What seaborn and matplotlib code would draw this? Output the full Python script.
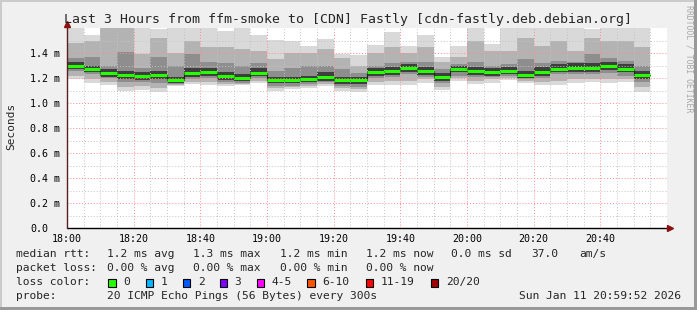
import numpy as np
import pandas as pd
import matplotlib
matplotlib.use("Agg")
import matplotlib.pyplot as plt
import seaborn as sns
from matplotlib.patches import Rectangle

# ---------------- data (ms) ----------------
x_tick_labels = ["18:00", "18:20", "18:40", "19:00", "19:20", "19:40", "20:00", "20:20", "20:40"]
y_tick_labels = ["0.0", "0.2 m", "0.4 m", "0.6 m", "0.8 m", "1.0 m", "1.2 m", "1.4 m"]
step_min = 5  # one column every 300 s

med = [1.300, 1.272, 1.237, 1.221, 1.213, 1.221, 1.181, 1.237, 1.247, 1.213, 1.197, 1.242,
       1.181, 1.181, 1.189, 1.210, 1.181, 1.181, 1.245, 1.253, 1.277, 1.253, 1.208, 1.269,
       1.253, 1.245, 1.253, 1.226, 1.245, 1.272, 1.280, 1.280, 1.293, 1.274, 1.224]
mx = [1.70, 1.546, 1.70, 1.70, 1.70, 1.594, 1.70, 1.70, 1.70, 1.573, 1.70, 1.546,
      1.506, 1.493, 1.460, 1.514, 1.394, 1.386, 1.466, 1.568, 1.453, 1.546, 1.367, 1.453,
      1.70, 1.474, 1.70, 1.70, 1.70, 1.70, 1.70, 1.590, 1.70, 1.70, 1.70]
p90 = [1.48, 1.50, 1.62, 1.62, 1.39, 1.52, 1.40, 1.50, 1.45, 1.45, 1.43, 1.42,
       1.35, 1.40, 1.40, 1.43, 1.36, 1.30, 1.40, 1.45, 1.40, 1.45, 1.33, 1.37,
       1.50, 1.42, 1.42, 1.52, 1.46, 1.50, 1.42, 1.52, 1.50, 1.50, 1.45]
p75 = [1.36, 1.37, 1.30, 1.41, 1.28, 1.37, 1.30, 1.39, 1.33, 1.32, 1.30, 1.32,
       1.26, 1.28, 1.30, 1.30, 1.27, 1.24, 1.30, 1.32, 1.33, 1.33, 1.27, 1.31,
       1.33, 1.30, 1.31, 1.35, 1.32, 1.34, 1.33, 1.39, 1.36, 1.34, 1.30]
p60 = [1.33, 1.30, 1.27, 1.26, 1.25, 1.26, 1.21, 1.28, 1.28, 1.25, 1.23, 1.28,
       1.21, 1.21, 1.22, 1.25, 1.21, 1.21, 1.28, 1.29, 1.31, 1.29, 1.24, 1.30,
       1.29, 1.28, 1.29, 1.26, 1.29, 1.31, 1.32, 1.32, 1.33, 1.31, 1.26]
p40 = [1.275, 1.245, 1.21, 1.19, 1.185, 1.19, 1.16, 1.21, 1.22, 1.185, 1.175, 1.215,
       1.16, 1.16, 1.165, 1.18, 1.155, 1.155, 1.22, 1.225, 1.25, 1.225, 1.18, 1.245,
       1.225, 1.22, 1.23, 1.20, 1.22, 1.245, 1.25, 1.25, 1.265, 1.245, 1.195]
p25 = [1.26, 1.23, 1.20, 1.17, 1.17, 1.16, 1.15, 1.19, 1.20, 1.17, 1.16, 1.20,
       1.14, 1.14, 1.15, 1.165, 1.14, 1.13, 1.20, 1.21, 1.235, 1.21, 1.16, 1.22,
       1.21, 1.21, 1.22, 1.19, 1.20, 1.23, 1.23, 1.23, 1.24, 1.22, 1.17]
p10 = [1.22, 1.19, 1.17, 1.13, 1.14, 1.12, 1.145, 1.17, 1.17, 1.15, 1.15, 1.18,
       1.12, 1.13, 1.135, 1.15, 1.12, 1.11, 1.17, 1.18, 1.18, 1.19, 1.13, 1.20,
       1.18, 1.19, 1.20, 1.18, 1.17, 1.18, 1.19, 1.19, 1.19, 1.19, 1.13]
mn = [1.19, 1.16, 1.146, 1.10, 1.106, 1.085, 1.138, 1.152, 1.146, 1.133, 1.141, 1.16,
      1.093, 1.112, 1.12, 1.133, 1.093, 1.09, 1.141, 1.146, 1.141, 1.16, 1.106, 1.173,
      1.154, 1.16, 1.181, 1.16, 1.146, 1.141, 1.16, 1.165, 1.16, 1.165, 1.088]

loss_labels = ["0", "1", "2", "3", "4-5", "6-10", "11-19", "20/20"]
loss_colors = ["#26ff00", "#00b8ff", "#0059ff", "#7e00ff", "#ff00ff", "#ff5500", "#ff0000", "#a10000"]

# ---------------- figure ----------------
sns.set_style("white")
plt.rcParams['font.family'] = ['DejaVu Sans Mono', 'DejaVu Sans']

W, H = 697, 310
fig = plt.figure(figsize=(W / 100, H / 100), dpi=100, facecolor='#f0f0f0')

def fx(px):
    return px / W

def fy(py):
    return 1 - py / H

top_px, bot_px, left_px, right_px = 27.5, 228.0, 67.0, 667.0
ax = fig.add_axes([fx(left_px), fy(bot_px), (right_px - left_px) / W, (bot_px - top_px) / H])
ax.set_facecolor('white')
ymax = (bot_px - top_px) / 125.0
ax.set_xlim(0, 180)
ax.set_ylim(0, ymax)

n = len(med)
t = np.arange(n) * step_min

bands = [(mn, mx, '#d9d9d9'), (p10, p90, '#b3b3b3'), (p25, p75, '#8e8e8e'), (p40, p60, '#3e3e3e')]
for lo, hi, c in bands:
    lo = np.array(lo)
    hi = np.array(hi)
    ax.bar(t, hi - lo, bottom=lo, width=step_min, align='edge', color=c, linewidth=0, zorder=1)

# median: dark step line + green segments
df = pd.DataFrame({'t': list(t) + [n * step_min], 'v': med + [med[-1]]})
sns.lineplot(data=df, x='t', y='v', drawstyle='steps-post', color='#202020', linewidth=0.8,
             ax=ax, zorder=4)
ax.hlines(med, t, t + step_min, color=loss_colors[0], linewidth=2.2, zorder=5)
ax.set_xlabel('')
ax.set_ylabel('')

# ticks & grid
ax.set_xticks(np.arange(len(x_tick_labels)) * 20, labels=x_tick_labels)
ax.set_xticks(np.arange(0, 181, 5), minor=True)
ax.set_yticks(np.arange(len(y_tick_labels)) * 0.2, labels=y_tick_labels)
ax.set_yticks(np.arange(0, 1.55, 0.1), minor=True)
ax.set_axisbelow(False)
ax.grid(which='major', color='#ff8c8c', linestyle=(0, (1, 2)), linewidth=0.7)
ax.grid(which='minor', color='#c4c4c4', linestyle=(0, (1, 2)), linewidth=0.7)
ax.tick_params(axis='x', which='major', length=2.5, direction='in', color='#ff4040',
               labelsize=7.2, pad=4, labelcolor='black')
ax.tick_params(axis='x', which='minor', length=2, direction='in', color='#b0b0b0')
ax.tick_params(axis='y', which='both', length=0, labelsize=7.2, pad=26.6, labelcolor='black')
for lbl in ax.get_yticklabels():
    lbl.set_horizontalalignment('left')
for s in ax.spines.values():
    s.set_visible(False)

# axes lines with arrows
ax.plot([0, 180.9], [0, 0], color='black', linewidth=1.0, clip_on=False, zorder=6)
ax.plot([180.9], [0], marker='>', markersize=5, color='#8b1010', clip_on=False, zorder=7)
ax.plot([0, 0], [0, 1.63], color='#5a2020', linewidth=1.0, clip_on=False, zorder=6)
ax.plot([0], [1.632], marker='^', markersize=5, color='#8b1010', clip_on=False, zorder=7)

# texts
fig.text(fx(347.5), fy(19), "Last 3 Hours from ffm-smoke to [CDN] Fastly [cdn-fastly.deb.debian.org]",
         ha='center', va='center', fontsize=9.5)
fig.text(fx(11), fy(126), "Seconds", rotation=90, ha='center', va='center', fontsize=8)
fig.text(fx(688.5), fy(59), "RRDTOOL / TOBI OETIKER", rotation=270, ha='center', va='center',
         fontsize=5.9, color='#a8a8a8')

fs = 8.1
row_y = [254.3, 268.3, 282.3, 296.0]
fig.text(fx(16), fy(row_y[0]), "median rtt:", ha='left', va='center', fontsize=fs)
for xp, s in zip([107, 193, 280, 366, 451, 531, 579],
                 ["1.2 ms avg", "1.3 ms max", "1.2 ms min", "1.2 ms now", "0.0 ms sd", "37.0", "am/s"]):
    fig.text(fx(xp), fy(row_y[0]), s, ha='left', va='center', fontsize=fs)
fig.text(fx(16), fy(row_y[1]), "packet loss:", ha='left', va='center', fontsize=fs)
for xp, s in zip([107, 193, 280, 366], ["0.00 % avg", "0.00 % max", "0.00 % min", "0.00 % now"]):
    fig.text(fx(xp), fy(row_y[1]), s, ha='left', va='center', fontsize=fs)
fig.text(fx(16), fy(row_y[2]), "loss color:", ha='left', va='center', fontsize=fs)
box_x = [108.3, 145.7, 182.7, 219.7, 256.7, 307.0, 365.7, 430.7]
for bx, lab, col in zip(box_x, loss_labels, loss_colors):
    fig.add_artist(Rectangle((fx(bx), fy(286.5)), 7.5 / W, 8 / H, transform=fig.transFigure,
                             facecolor=col, edgecolor='black', linewidth=0.8))
    fig.text(fx(bx + 15), fy(row_y[2]), lab, ha='left', va='center', fontsize=fs)
fig.text(fx(16), fy(row_y[3]), "probe:", ha='left', va='center', fontsize=fs)
fig.text(fx(107), fy(row_y[3]), "20 ICMP Echo Pings (56 Bytes) every 300s", ha='left', va='center', fontsize=fs)
fig.text(fx(681), fy(row_y[3]), "Sun Jan 11 20:59:52 2026", ha='right', va='center', fontsize=fs)

# 3D-ish border
fig.add_artist(Rectangle((0, 1 - 2 / H), 1, 2 / H, transform=fig.transFigure, color='#cbcbcb', lw=0))
fig.add_artist(Rectangle((0, 0), 2 / W, 1, transform=fig.transFigure, color='#cbcbcb', lw=0))
fig.add_artist(Rectangle((1 - 3 / W, 0), 3 / W, 1, transform=fig.transFigure, color='#999999', lw=0))
fig.add_artist(Rectangle((0, 0), 1, 3 / H, transform=fig.transFigure, color='#999999', lw=0))

fig.savefig("out.png", dpi=100, facecolor=fig.get_facecolor())
